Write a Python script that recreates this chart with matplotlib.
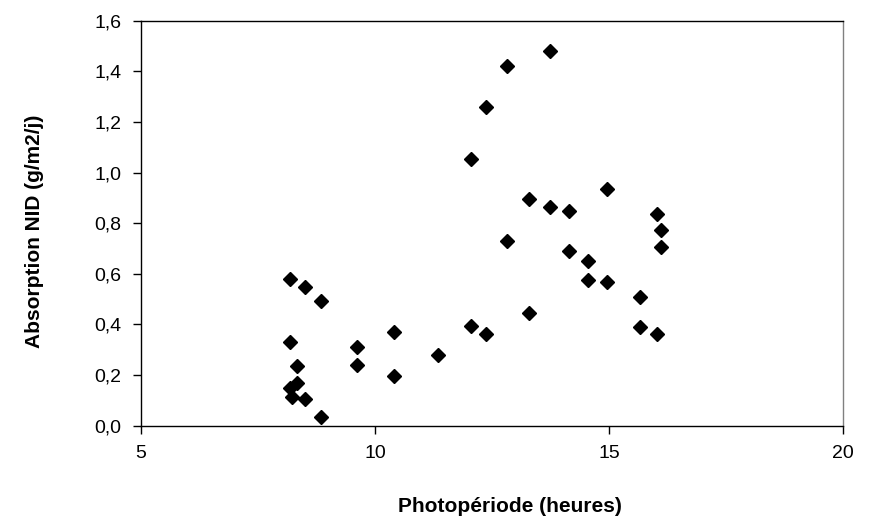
import matplotlib
matplotlib.use("Agg")
import matplotlib.pyplot as plt
from matplotlib.ticker import FuncFormatter

plt.rcParams['font.family'] = ['Liberation Sans', 'DejaVu Sans']

# photopériode (heures) et absorption NID (g/m2/j)
photoperiode = [8.19, 8.50, 8.85, 8.19, 9.61, 10.41, 8.33, 9.61, 10.41, 8.33,
                8.18, 8.22, 8.50, 8.85,
                11.35, 12.06, 12.37, 12.82, 13.75, 12.06, 12.37, 12.82, 13.30,
                13.30, 13.75, 14.15, 14.15, 14.55, 14.55, 14.95, 14.95, 15.66,
                15.66, 16.02, 16.11, 16.11, 16.02]
absorption = [0.578, 0.549, 0.493, 0.329, 0.312, 0.370, 0.237, 0.239, 0.196, 0.167,
              0.150, 0.112, 0.105, 0.033,
              0.279, 1.052, 1.258, 1.421, 1.479, 0.395, 0.362, 0.731, 0.894,
              0.444, 0.863, 0.847, 0.691, 0.650, 0.576, 0.936, 0.568, 0.510,
              0.389, 0.838, 0.773, 0.707, 0.362]

x_ticks = [5, 10, 15, 20]
y_ticks = [0.0, 0.2, 0.4, 0.6, 0.8, 1.0, 1.2, 1.4, 1.6]

fig = plt.figure(figsize=(8.69, 5.28), dpi=100)
ax = fig.add_axes([0.1623, 0.1938, 0.8077, 0.767])

ax.plot(photoperiode, absorption, linestyle='none', marker='D',
        markersize=7.2, color='black')

ax.set_xlim(5, 20)
ax.set_ylim(0, 1.6)
ax.set_xticks(x_ticks)
ax.set_yticks(y_ticks)
ax.yaxis.set_major_formatter(FuncFormatter(lambda v, p: f"{v:.1f}".replace('.', ',')))
ax.tick_params(direction='out', length=6, width=1, labelsize=14, pad=8)

for s in ax.spines.values():
    s.set_linewidth(1)
ax.spines['right'].set_color('#808080')

ax.set_xlabel("Photopériode (heures)", fontsize=15, fontweight='bold')
ax.set_ylabel("Absorption NID (g/m2/j)", fontsize=15, fontweight='bold')
ax.xaxis.set_label_coords(0.526, -0.175)
ax.yaxis.set_label_coords(-0.138, 0.48)

fig.savefig("out.png", dpi=100)
